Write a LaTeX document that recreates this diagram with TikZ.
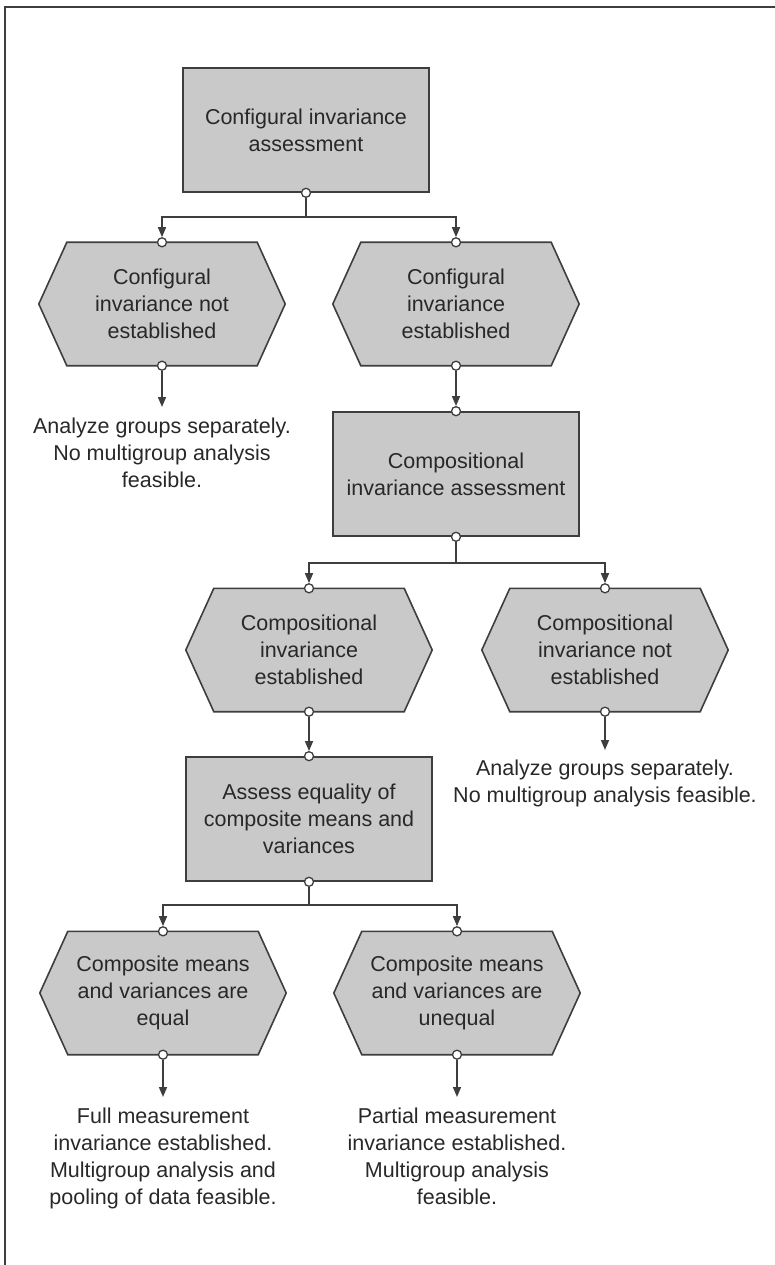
\documentclass[tikz,border=0pt]{standalone}
\usepackage{fontspec}
\setmainfont{Liberation Sans}
\usetikzlibrary{arrows.meta,backgrounds}
\definecolor{boxgray}{RGB}{201,201,201}
\definecolor{linegray}{RGB}{62,62,62}
\definecolor{textgray}{RGB}{40,40,40}

\begin{document}
\begin{tikzpicture}[x=1pt,y=-1pt,
  every node/.style={font=\fontsize{21.5}{27}\selectfont, text=textgray, align=center, inner sep=0pt},
  procbox/.style={draw=linegray, line width=1.6pt, fill=boxgray, minimum width=246pt, minimum height=124pt},
  hexbox/.style={minimum width=246pt, minimum height=123pt},
  hexfill/.style={draw=linegray, line width=1.6pt, fill=boxgray, line join=miter},
  port/.style={circle, draw=linegray, line width=1.3pt, fill=white, minimum size=9pt, inner sep=0pt},
  link/.style={draw=linegray, line width=1.6pt},
  arr/.style={link, -{Triangle[length=10pt,width=8pt]}},
  outcome/.style={anchor=north}
]
\useasboundingbox (0,0) rectangle (775,1265);

% frame
\draw[draw=linegray, line width=1.2pt] (775,7) -- (5,7) -- (5,1265);

% process boxes, decision hexagons and outcome texts
\node[procbox] (b1) at (306,130) {Configural invariance\\assessment};
\node[hexbox] (h1) at (162,304) {Configural\\invariance not\\established};
\node[hexbox] (h2) at (456,304) {Configural\\invariance\\established};
\node[outcome] (o1) at (162,418) {Analyze groups separately.\\No multigroup analysis\\feasible.};

\node[procbox] (b2) at (456,474) {Compositional\\invariance assessment};
\node[hexbox] (h3) at (309,650) {Compositional\\invariance\\established};
\node[hexbox] (h4) at (605,650) {Compositional\\invariance not\\established};
\node[outcome] (o2) at (605,760) {Analyze groups separately.\\No multigroup analysis feasible.};

\node[procbox] (b3) at (309,819) {Assess equality of\\composite means and\\variances};
\node[hexbox] (h5) at (163,993) {Composite means\\and variances are\\equal};
\node[hexbox] (h6) at (457,993) {Composite means\\and variances are\\unequal};
\node[outcome] (o3) at (163,1108) {Full measurement\\invariance established.\\Multigroup analysis and\\pooling of data feasible.};
\node[outcome] (o4) at (457,1108) {Partial measurement\\invariance established.\\Multigroup analysis\\feasible.};

% hexagon outlines behind the texts
\begin{scope}[on background layer]
\foreach \h in {h1,h2,h3,h4,h5,h6}
  \filldraw[hexfill] (\h.west) -- ([xshift=28pt]\h.north west) -- ([xshift=-28pt]\h.north east)
    -- (\h.east) -- ([xshift=-28pt]\h.south east) -- ([xshift=28pt]\h.south west) -- cycle;
\end{scope}

% connection ports
\foreach \n in {b1,b2,b3,h1,h2,h3,h4,h5,h6}
  \node[port] (\n-s) at (\n.south) {};
\foreach \n in {b2,b3,h1,h2,h3,h4,h5,h6}
  \node[port] (\n-n) at (\n.north) {};

% branch points
\coordinate (j1) at (306,217);
\coordinate (j2) at (456,563);
\coordinate (j3) at (309,905);

% connectors
\draw[link] (b1-s) -- (j1);
\draw[arr] (j1) -| (h1-n);
\draw[arr] (j1) -| (h2-n);
\draw[arr] (h1-s) -- ([yshift=11pt]o1.north);
\draw[arr] (h2-s) -- (b2-n);

\draw[link] (b2-s) -- (j2);
\draw[arr] (j2) -| (h3-n);
\draw[arr] (j2) -| (h4-n);
\draw[arr] (h4-s) -- ([yshift=10pt]o2.north);
\draw[arr] (h3-s) -- (b3-n);

\draw[link] (b3-s) -- (j3);
\draw[arr] (j3) -| (h5-n);
\draw[arr] (j3) -| (h6-n);
\draw[arr] (h5-s) -- ([yshift=11pt]o3.north);
\draw[arr] (h6-s) -- ([yshift=11pt]o4.north);
\end{tikzpicture}
\end{document}
